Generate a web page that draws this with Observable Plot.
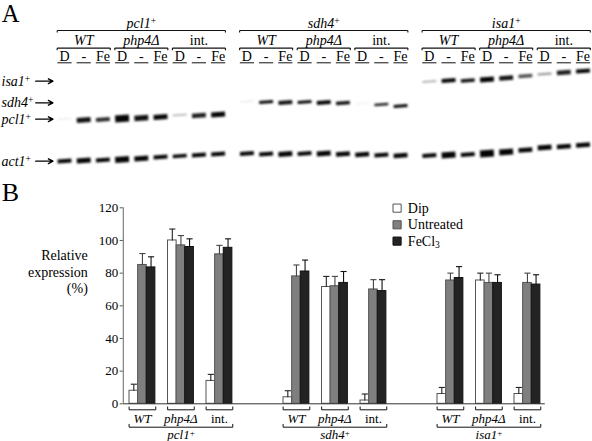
<!DOCTYPE html>
<html>
<head>
<meta charset="utf-8">
<style>html,body{margin:0;padding:0;background:#fff}svg{display:block}</style>
<script src="https://cdn.jsdelivr.net/npm/d3@7"></script>
<script src="https://cdn.jsdelivr.net/npm/@observablehq/plot@0.6"></script>
</head>
<body>
<script>
// ---- shared categories ----
const genes = ["pcl1+", "sdh4+", "isa1+"];
const strains = ["WT", "php4Δ", "int."];
const laneNames = ["D", "-", "Fe"];
const conditions = ["Dip", "Untreated", "FeCl3"];

// ---- panel A: gel bands per lane (position, thickness, darkness) ----
const pcl1Pos = [118.5,119.5,119,118,117.5,116.5,114.5,115,114];
const pcl1Thick = [1,5,4,7,5.5,5,1.5,4.5,5];
const pcl1Ink = [.12,.95,.85,1,.95,1,.35,.9,1];
const sdh4Pos = [101,101.5,102,101.5,102,102.5,103,104,105.5];
const sdh4Thick = [1,3,4,3,4,3.5,1,2.5,3];
const sdh4Ink = [.12,1,.95,1,1,.95,.08,.9,1];
const isa1Pos = [81,80,80,79,77.5,75.5,73.5,72,70.5];
const isa1Thick = [1.5,4,3.5,5,4.5,3.5,2,4.5,4];
const isa1Ink = [.4,1,.95,1,.95,.7,.45,.9,1];
const act1PcPos = [160.5,160,159.5,159,158,156.5,155.5,154.5,153.5];
const act1PcThick = [4,5,4,6,5,4,3.5,4,4];
const act1SdPos = [153,153.5,153.5,153,153,153.5,154,154.5,155];
const act1SdThick = [4,4,5,4,5,4.5,4.5,4,4.5];
const act1IsPos = [155,154.5,154,153,151.5,149.5,147,146,144.5];
const act1IsThick = [4,6,4,7,6,4.5,5,4.5,4.5];
const rowNames = ["isa1+", "sdh4+", "pcl1+", "act1+"];
const rowPos = [80.7,102.3,118.7,160.7];

// ---- panel B: relative expression (%) ----
const dipValues = [8,100,14, 4,71.5,2, 6,75.5,6];
const untreatedValues = [85,97,91.5, 78,72,70, 75.5,74,74];
const fecl3Values = [83.5,96,95.5, 81,74,69, 77,74,73];
const dipErrTop = [12,107,18, 8,78,6, 10,80,10];
const untreatedErrTop = [92,103,97, 85,78,76, 80,80,80];
const fecl3ErrTop = [90,101,101, 88,81,76, 84,79,79];
const yTicks = [0,20,40,60,80,100,120];

// ---- derived tables ----
const laneX = (g, l) => g * 9.5 + l;
const serif = "'Liberation Serif','Times New Roman',serif";
const bands = [];
[[pcl1Pos,pcl1Thick,pcl1Ink],[sdh4Pos,sdh4Thick,sdh4Ink],[isa1Pos,isa1Thick,isa1Ink]].forEach((r,g)=>
  r[0].forEach((y,l)=>bands.push({x:laneX(g,l),y,w:r[1][l],ink:r[2][l]})));
[[act1PcPos,act1PcThick],[act1SdPos,act1SdThick],[act1IsPos,act1IsThick]].forEach((r,g)=>
  r[0].forEach((y,l)=>bands.push({x:laneX(g,l),y,w:r[1][l],ink:1})));
const laneRows = [], strainRows = [], geneRows = [];
genes.forEach((gene,g)=>{
  geneRows.push({name:gene,a:laneX(g,0),b:laneX(g,8)});
  strains.forEach((s,si)=>{
    strainRows.push({name:s,a:laneX(g,si*3),b:laneX(g,si*3+2)});
    laneNames.forEach((n,l)=>laneRows.push({name:n,x:laneX(g,si*3+l)}));
  });
});
const pad = 0.38;
const isItalic = d => d.name !== "int.";
const isRoman = d => d.name === "int.";
const bracketMarks = (rows, yLine, tick) => [
  Plot.link(rows,{x1:d=>d.a-pad,x2:d=>d.b+pad,y1:yLine,y2:yLine,stroke:"#111",strokeWidth:1.1}),
  Plot.link(rows,{x1:d=>d.a-pad,x2:d=>d.a-pad,y1:yLine,y2:yLine+tick,stroke:"#111",strokeWidth:1.1}),
  Plot.link(rows,{x1:d=>d.b+pad,x2:d=>d.b+pad,y1:yLine,y2:yLine+tick,stroke:"#111",strokeWidth:1.1})
];

const blot = Plot.plot({
  width:592,height:175,margin:0,
  style:{background:"white",fontFamily:serif,overflow:"visible"},
  x:{domain:[0,27],range:[64,582.5],axis:null},
  y:{domain:[0,175],range:[0,175],axis:null},
  marks:[
    Plot.link(bands,{x1:d=>d.x-.36,x2:d=>d.x+.36,y1:d=>d.y+.4,y2:d=>d.y-.4,
      strokeWidth:d=>d.w,stroke:d=>d3.interpolateRgb("white","#050505")(d.ink),imageFilter:"blur(0.8px)"}),
    Plot.text(["A"],{x:-3.27,y:21.8,fontSize:24.5,textAnchor:"start",lineAnchor:"bottom"}),
    ...bracketMarks(geneRows,30,2),
    ...bracketMarks(strainRows,47.6,2.2),
    Plot.link(laneRows,{x1:d=>d.x-.37,x2:d=>d.x+.37,y1:62.3,y2:62.3,stroke:"#111",strokeWidth:1}),
    Plot.text(geneRows,{x:d=>(d.a+d.b)/2,y:23,text:"name",fontSize:14,fontStyle:"italic"}),
    Plot.text(strainRows,{filter:isItalic,x:d=>(d.a+d.b)/2,y:40,text:"name",fontSize:14,fontStyle:"italic"}),
    Plot.text(strainRows,{filter:isRoman,x:d=>(d.a+d.b)/2,y:40,text:"name",fontSize:14}),
    Plot.text(laneRows,{x:"x",y:56,text:"name",fontSize:14}),
    Plot.text(rowNames,{x:-3.28,y:(d,i)=>rowPos[i],text:d=>d,fontSize:14,fontStyle:"italic",textAnchor:"start"}),
    Plot.arrow(rowPos,{x1:-1.5,x2:-.6,y1:d=>d,y2:d=>d,stroke:"#000",strokeWidth:1.3,headLength:6,headAngle:55})
  ]
});

// panel B
const groupStep = i => ({gene:Math.floor(i/3),strain:i%3,g:Math.floor(i/3)*4+i%3});
const barW = .224;
const bars = [], errs = [];
[[dipValues,dipErrTop],[untreatedValues,untreatedErrTop],[fecl3Values,fecl3ErrTop]].forEach((r,c)=>
  r[0].forEach((v,i)=>{
    const x1 = groupStep(i).g + c*barW;
    bars.push({x1,x2:x1+barW,v,c});
    errs.push({x:x1+barW/2,v,top:r[1][i],c});
  }));
const fills = ["#ffffff","#7f7f7f","#232323"];
const strokes = ["#555555","#555555","#111111"];
const errColors = ["#222","#444","#111"];
const strainB = [], geneB = [];
genes.forEach((name,g)=>{
  geneB.push({name,a:g*4,b:g*4+2+3*barW});
  strains.forEach((s,si)=>strainB.push({name:s,a:g*4+si,b:g*4+si+3*barW}));
});
const bPad = .01;
const under = (rows, dy) => [
  Plot.link(rows,{x1:d=>d.a-bPad,x2:d=>d.b+bPad,y1:0,y2:0,dy,stroke:"#111",strokeWidth:1}),
  Plot.link(rows,{x1:d=>d.a-bPad,x2:d=>d.a-bPad,y1:0,y2:2,dy,stroke:"#111",strokeWidth:1}),
  Plot.link(rows,{x1:d=>d.b+bPad,x2:d=>d.b+bPad,y1:0,y2:2,dy,stroke:"#111",strokeWidth:1})
];

const chart = Plot.plot({
  width:592,height:266,marginLeft:122.7,marginRight:47,marginTop:32.3,marginBottom:37.7,
  style:{background:"white",fontFamily:serif,overflow:"visible"},
  x:{domain:[0,10],range:[129,514],axis:null},
  y:{domain:[0,120],range:[228.3,32.3],axis:null},
  marks:[
    Plot.rectY(bars,{x1:"x1",x2:"x2",y1:0,y2:"v",fill:d=>fills[d.c],stroke:d=>strokes[d.c],strokeWidth:1}),
    Plot.link(errs,{x1:"x",x2:"x",y1:"v",y2:"top",stroke:d=>errColors[d.c],strokeWidth:1.1}),
    Plot.link(errs,{x1:d=>d.x-.08,x2:d=>d.x+.08,y1:"top",y2:"top",stroke:d=>errColors[d.c],strokeWidth:1.1}),
    Plot.ruleY([0],{x1:-.16,x2:10.8,stroke:"#333",strokeWidth:1}),
    Plot.ruleX([-.16],{y1:0,y2:120,stroke:"#888",strokeWidth:1.3}),
    Plot.axisY({ticks:yTicks,anchor:"left",tickSize:3,tickPadding:2,fontSize:13,stroke:"#555",color:"#000"}),
    Plot.text(["Relative\nexpression\n(%)"],{x:-1.083,y:81.1,textAnchor:"end",fontSize:14,lineHeight:1.19}),
    Plot.text(["B"],{x:-3.32,y:129.5,fontSize:26,textAnchor:"start"}),
    ...under(strainB,6),
    ...under(geneB,23.4),
    Plot.text(strainB,{filter:isItalic,x:d=>(d.a+d.b)/2,y:0,dy:14.7,text:"name",fontSize:13,fontStyle:"italic"}),
    Plot.text(strainB,{filter:isRoman,x:d=>(d.a+d.b)/2,y:0,dy:14.7,text:"name",fontSize:13}),
    Plot.text(geneB,{x:d=>(d.a+d.b)/2,y:0,dy:31.5,text:"name",fontSize:13,fontStyle:"italic"}),
    Plot.dot(conditions,{x:6.95,y:(d,i)=>[119.8,109.6,99.6][i],symbol:"square",r:4.6,
      fill:(d,i)=>fills[i],stroke:(d,i)=>strokes[i],strokeWidth:1}),
    Plot.text(conditions,{x:7.23,y:(d,i)=>[119.8,109.6,99.6][i],text:d=>d,textAnchor:"start",fontSize:14})
  ]
});

document.body.append(blot, chart);

// real superscripts and subscripts in the labels
d3.selectAll("svg text").each(function(){
  const t = this.textContent;
  if (this.children.length) return;
  let m;
  if ((m = t.match(/^(.*)\+$/))) {
    this.textContent = m[1];
    d3.select(this).append("tspan").attr("dy","-0.42em").attr("font-size","0.68em").attr("font-style","normal").text("+");
  } else if (t === "FeCl3") {
    this.textContent = "FeCl";
    d3.select(this).append("tspan").attr("dy","0.3em").attr("font-size","0.68em").text("3");
  }
});
</script>
</body>
</html>
